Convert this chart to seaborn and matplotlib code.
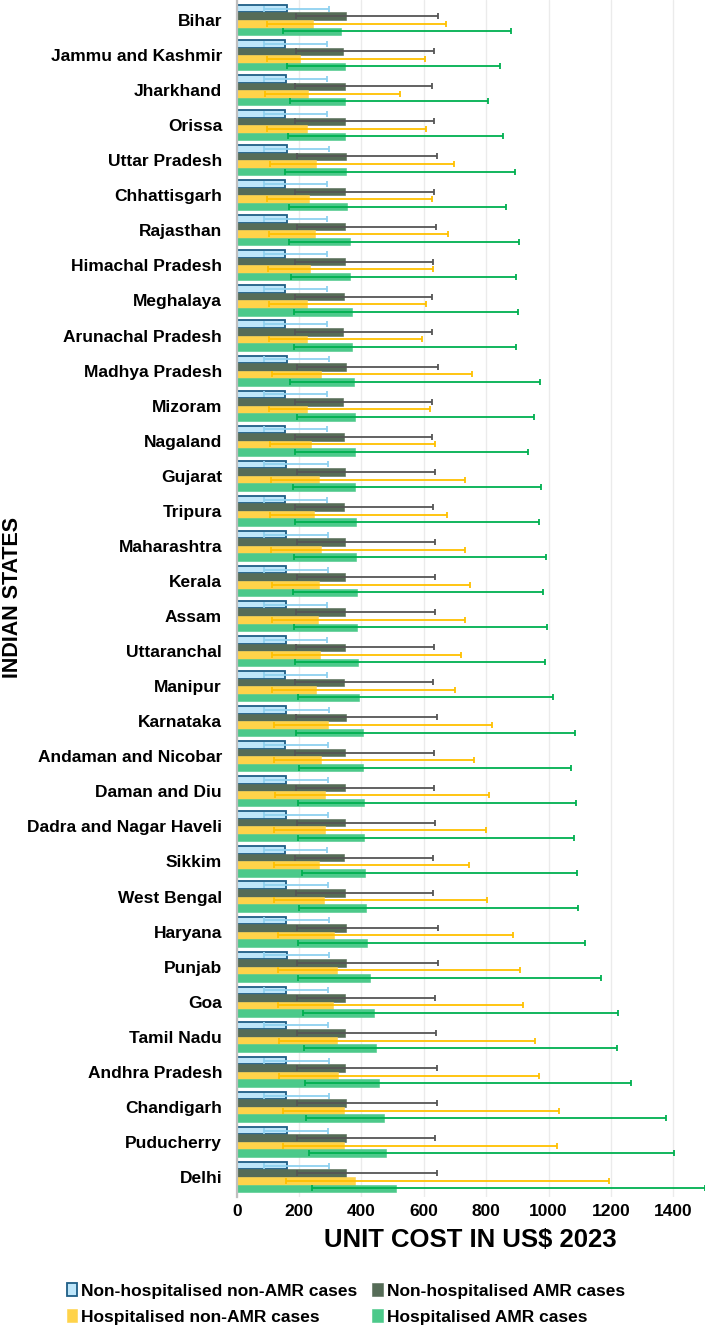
import numpy as np
import pandas as pd
import matplotlib
matplotlib.use("Agg")
import matplotlib.pyplot as plt
from matplotlib import font_manager
import seaborn as sns

states = ["Bihar", "Jammu and Kashmir", "Jharkhand", "Orissa", "Uttar Pradesh", "Chhattisgarh",
          "Rajasthan", "Himachal Pradesh", "Meghalaya", "Arunachal Pradesh", "Madhya Pradesh",
          "Mizoram", "Nagaland", "Gujarat", "Tripura", "Maharashtra", "Kerala", "Assam",
          "Uttaranchal", "Manipur", "Karnataka", "Andaman and Nicobar", "Daman and Diu",
          "Dadra and Nagar Haveli", "Sikkim", "West Bengal", "Haryana", "Punjab", "Goa",
          "Tamil Nadu", "Andhra Pradesh", "Chandigarh", "Puducherry", "Delhi"]

series = ["Non-hospitalised non-AMR cases", "Non-hospitalised AMR cases",
          "Hospitalised non-AMR cases", "Hospitalised AMR cases"]

nh_nonamr = [160, 156, 158, 156, 160, 156, 160, 156, 156, 156, 160, 156, 156, 159, 156, 159, 159,
             158, 158, 156, 159, 156, 159, 159, 156, 158, 159, 160, 158, 159, 159, 159, 160, 160]
nh_nonamr_lo = [86, 86, 86, 86, 86, 86, 86, 86, 86, 86, 86, 86, 86, 86, 86, 86, 86,
                86, 86, 86, 86, 86, 86, 86, 86, 86, 86, 86, 86, 86, 86, 86, 86, 86]
nh_nonamr_hi = [295, 291, 288, 290, 297, 291, 291, 289, 288, 289, 295, 289, 290, 293, 290, 293, 293,
                291, 291, 289, 297, 292, 292, 294, 290, 292, 297, 297, 293, 294, 295, 295, 293, 295]

nh_amr = [350, 342, 347, 346, 350, 346, 348, 346, 345, 342, 350, 341, 344, 348, 345, 348, 347,
          346, 347, 344, 349, 346, 347, 347, 344, 346, 350, 350, 348, 348, 348, 350, 349, 350]
nh_amr_lo = [190, 190, 187, 188, 193, 188, 193, 188, 188, 188, 193, 188, 188, 193, 188, 193, 193,
             190, 190, 188, 190, 188, 190, 193, 188, 190, 193, 193, 193, 193, 193, 193, 193, 193]
nh_amr_hi = [646, 633, 627, 632, 643, 632, 638, 631, 626, 626, 645, 625, 627, 636, 628, 635, 636,
             635, 632, 628, 641, 633, 633, 635, 628, 631, 644, 644, 635, 638, 641, 642, 637, 641]

h_nonamr = [244, 202, 229, 226, 255, 233, 251, 235, 227, 224, 271, 227, 238, 264, 247, 270, 263,
            260, 266, 253, 292, 270, 283, 283, 263, 280, 311, 321, 310, 321, 324, 345, 343, 379]
h_nonamr_lo = [98, 98, 90, 96, 106, 98, 105, 100, 103, 103, 114, 103, 107, 111, 108, 111, 114,
               114, 114, 112, 121, 119, 122, 121, 118, 121, 132, 134, 134, 137, 137, 147, 147, 159]
h_nonamr_hi = [670, 605, 525, 606, 698, 625, 676, 631, 607, 594, 755, 619, 635, 733, 674, 731, 747,
               732, 719, 699, 818, 760, 810, 798, 744, 803, 885, 907, 919, 956, 968, 1033, 1026, 1193]

h_amr = [334, 346, 347, 347, 350, 354, 363, 363, 370, 370, 377, 378, 378, 379, 382, 384, 385,
         387, 388, 392, 404, 406, 409, 409, 411, 414, 418, 429, 440, 448, 456, 473, 480, 512]
h_amr_lo = [147, 162, 172, 164, 156, 168, 168, 174, 185, 184, 170, 193, 188, 181, 188, 185, 181,
            185, 186, 195, 190, 200, 196, 198, 208, 201, 198, 198, 214, 216, 220, 223, 231, 240]
h_amr_hi = [879, 843, 806, 854, 892, 862, 904, 894, 902, 894, 974, 952, 933, 975, 968, 991, 981,
            994, 987, 1013, 1084, 1071, 1087, 1082, 1090, 1094, 1116, 1167, 1223, 1221, 1264, 1375, 1403, 1500]

xticks = [0, 200, 400, 600, 800, 1000, 1200, 1400]

bar_colors = ["#BEE6FA", "#566C57", "#FFD34A", "#4CC98A"]
err_colors = ["#8FD1F0", "#555555", "#FFC000", "#00B050"]

values = [nh_nonamr, nh_amr, h_nonamr, h_amr]
lows = [nh_nonamr_lo, nh_amr_lo, h_nonamr_lo, h_amr_lo]
highs = [nh_nonamr_hi, nh_amr_hi, h_nonamr_hi, h_amr_hi]

records = []
for s, v in zip(series, values):
    for st, val in zip(states, v):
        records.append({"state": st, "series": s, "cost": val})
df = pd.DataFrame(records)

sns.set_theme(style="white")
names = {f.name for f in font_manager.fontManager.ttflist}
NARROW = "Liberation Sans Narrow" if "Liberation Sans Narrow" in names else None
plt.rcParams["font.family"] = ["Liberation Sans", "DejaVu Sans"]
plt.rcParams["font.weight"] = "bold"
plt.rcParams["text.color"] = "black"

W, H = 705, 1328
fig = plt.figure(figsize=(W / 100, H / 100), dpi=100)
ax_left, ax_right, ax_top, ax_bottom = 236.7, 704.5, 0, 1197
ax = fig.add_axes([ax_left / W, 1 - ax_bottom / H, (ax_right - ax_left) / W, (ax_bottom - ax_top) / H])

sns.barplot(data=df, x="cost", y="state", hue="series", order=states, hue_order=series,
            orient="h", palette=bar_colors, saturation=1, width=0.86, errorbar=None,
            legend=False, ax=ax, zorder=2)

bar_containers = list(ax.containers[:4])
for cont, col in zip(bar_containers, bar_colors):
    for p in cont:
        p.set_edgecolor(col)
        p.set_linewidth(0.4)
for p in bar_containers[0]:
    p.set_edgecolor("#1F5E86")
    p.set_linewidth(1.3)

for cont, v, lo, hi, ec in zip(bar_containers, values, lows, highs, err_colors):
    ys = [p.get_y() + p.get_height() / 2 for p in cont]
    v = np.asarray(v, float)
    xerr = [v - np.asarray(lo, float), np.asarray(hi, float) - v]
    ax.errorbar(v, ys, xerr=xerr, fmt="none", ecolor=ec, elinewidth=1.3,
                capsize=2.4, capthick=1.3, zorder=3, clip_on=False)

n = len(states)
ax.set_ylim(n - 1 + 0.57, -0.57)
ax.set_xlim(0, 1500)
ax.set_xticks(xticks)
ax.set_xticklabels([str(t) for t in xticks])
ax.xaxis.grid(True, color="#EBEBEB", linewidth=1)
ax.yaxis.grid(False)
ax.set_axisbelow(True)
for side in ["top", "right", "bottom"]:
    ax.spines[side].set_visible(False)
ax.spines["left"].set_color("#BFBFBF")
ax.spines["left"].set_linewidth(1.6)
ax.spines["left"].set_zorder(4)
ax.tick_params(axis="x", length=0, pad=5, labelsize=12.5, labelcolor="black")
ax.tick_params(axis="y", length=0, pad=10.5, labelsize=12.5, labelcolor="black")
for t in ax.get_xticklabels() + ax.get_yticklabels():
    t.set_fontweight("bold")

if NARROW:
    xl_font = dict(family=[NARROW, "Liberation Sans"], size=23, weight="bold")
    leg_font = dict(family=[NARROW, "Liberation Sans"], size=15.5, weight="bold")
else:
    xl_font = dict(family=["Liberation Sans"], size=18.5, weight="bold")
    leg_font = dict(family=["Liberation Sans"], size=12.5, weight="bold")

ax.set_xlabel("UNIT COST IN US$ 2023", fontdict=xl_font, color="black")
ax.xaxis.set_label_coords(0.5, -(1240 - ax_bottom) / (ax_bottom - ax_top))
ax.xaxis.label.set_va("center")
ax.set_ylabel("INDIAN STATES", fontsize=15.5, fontweight="bold", color="black")
ax.yaxis.set_label_coords((13 - ax_left) / (ax_right - ax_left), 1 - (598 - ax_top) / (ax_bottom - ax_top))
ax.yaxis.label.set_va("center")

# legend rows: [NHn, NHA] / [Hn, HA]; matplotlib fills column-wise
leg_order = [0, 2, 1, 3]
leg = fig.legend([bar_containers[i] for i in leg_order], [series[i] for i in leg_order],
                 loc="center", ncol=2,
                 bbox_to_anchor=(346 / W, 1 - 1304 / H), frameon=False,
                 prop=leg_font, handlelength=0.6, handleheight=0.8,
                 handletextpad=0.25, columnspacing=0.85, labelspacing=0.6,
                 borderaxespad=0, borderpad=0, labelcolor="black")

fig.savefig("out.png", dpi=100)
